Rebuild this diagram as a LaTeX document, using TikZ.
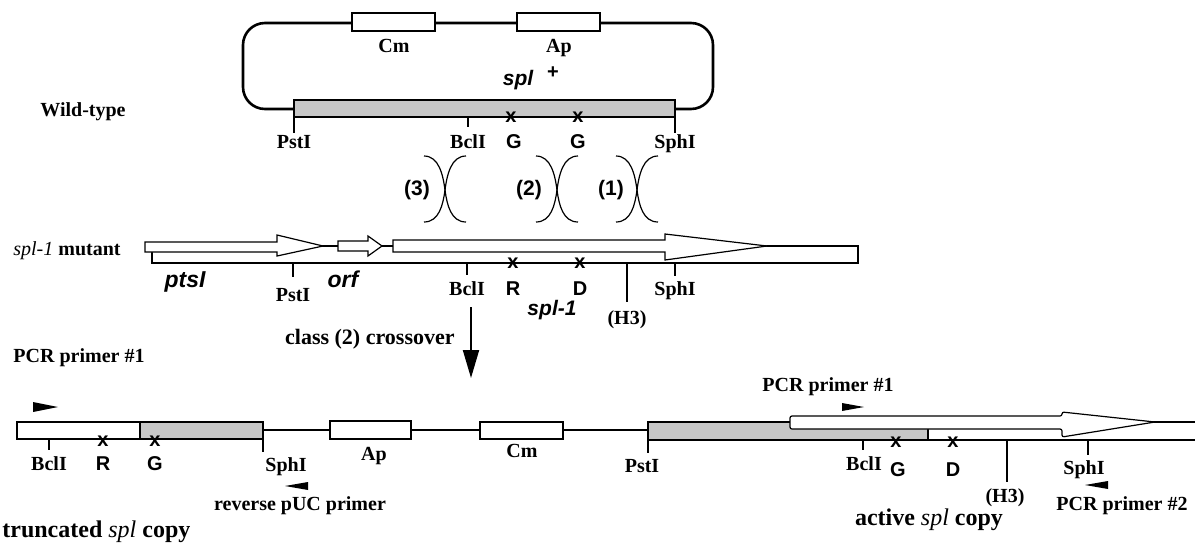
\documentclass[tikz,border=0pt]{standalone}
\usepackage{fontspec}
\setmainfont{Liberation Serif}
\setsansfont{Liberation Sans}
\usetikzlibrary{arrows.meta}
\newcommand{\xoverat}[1]{%
  \draw[xo] (#1-21,156) .. controls (#1-6,156) and (#1-2,175) .. (#1,190) .. controls (#1+2,205) and (#1+6,222) .. (#1+21,222);
  \draw[xo] (#1+21,156) .. controls (#1+6,156) and (#1+2,175) .. (#1,190) .. controls (#1-2,205) and (#1-6,222) .. (#1-21,222);}
\begin{document}
\begin{tikzpicture}[x=0.5pt,y=-0.5pt,
  lab/.style={font=\fontsize{10}{12}\selectfont\bfseries, anchor=base, inner sep=0},
  biglab/.style={font=\fontsize{12}{14}\selectfont\bfseries, anchor=base, inner sep=0},
  slab/.style={font=\fontsize{10}{12}\selectfont\sffamily\bfseries, anchor=base, inner sep=0},
  islab/.style={font=\fontsize{10.5}{12}\selectfont\sffamily\bfseries\itshape, anchor=base, inner sep=0},
  numlab/.style={font=\fontsize{10.5}{12}\selectfont\sffamily\bfseries, inner sep=0},
  xm/.style={font=\fontsize{10}{10}\selectfont\sffamily\bfseries, inner sep=0},
  bb/.style={line width=1.3pt},
  bbl/.style={line width=1pt},
  box/.style={draw, line width=0.8pt, fill=white},
  gbox/.style={draw, line width=0.8pt, fill=black!22},
  gene/.style={draw, line width=0.6pt, fill=white, line join=miter},
  tick/.style={line width=0.6pt},
  primer/.style={fill=black},
  xo/.style={line width=0.6pt},
]
\useasboundingbox (0,0) rectangle (1195,542);

% ---------- wild-type plasmid ----------
\draw[bb, rounded corners=11pt] (294,109) -- (243,109) -- (243,23) -- (713,23) -- (713,109) -- (675,109);
\draw[box] (352,13) rectangle (435,31);
\draw[box] (517,13) rectangle (600,31);
\node[lab] (cmA) at (394,52) {Cm};
\node[lab] (apA) at (559,52) {Ap};
\node[islab] (splA) at (518,85) {spl};
\node[slab, anchor=center] (plusA) at (553,73) {+};
\draw[gbox] (294,100) rectangle (675,117);
\draw[tick] (294,117) -- (294,133);
\draw[tick] (675,117) -- (675,133);
\draw[tick] (468,117) -- (468,127);
\node[xm] (xA1) at (511,117) {x};
\node[xm] (xA2) at (578,117) {x};
\node[lab] (pstA) at (294,148) {PstI};
\node[lab] (bclA) at (468,148) {BclI};
\node[slab] (gA1) at (514,148) {G};
\node[slab] (gA2) at (578,148) {G};
\node[lab] (sphA) at (675,148) {SphI};
\node[lab] (wt) at (83,116) {Wild-type};

% ---------- crossovers ----------
\xoverat{445}
\xoverat{557}
\xoverat{637}
\node[numlab] (c3) at (417,190) {(3)};
\node[numlab] (c2) at (529,190) {(2)};
\node[numlab] (c1) at (611,190) {(1)};

% ---------- spl-1 mutant ----------
\node[lab, anchor=base west] (mut) at (13,255) {\textmd{\textit{spl-1}} mutant};
\draw[gene] (152,246) rectangle (858,263);
\draw[gene] (145,242) -- (277,242) -- (277,235) -- (323,246) -- (277,256) -- (277,252) -- (145,252) -- cycle;
\draw[gene] (338,241) -- (368,241) -- (368,236) -- (382,246) -- (368,256) -- (368,251) -- (338,251) -- cycle;
\draw[gene] (393,240) -- (665,240) -- (665,234) -- (767,246) -- (665,260) -- (665,252) -- (393,252) -- cycle;
\draw[tick] (293,263) -- (293,277);
\draw[tick] (467,263) -- (467,275);
\draw[tick] (627,263) -- (627,302);
\draw[tick] (675,263) -- (675,276);
\node[xm] (xB1) at (513,263) {x};
\node[xm] (xB2) at (580,263) {x};
\node[islab, font=\fontsize{11.5}{13}\selectfont\sffamily\bfseries\itshape] (pts) at (185,287) {ptsI};
\node[islab, font=\fontsize{11.5}{13}\selectfont\sffamily\bfseries\itshape] (orf) at (343,287) {orf};
\node[lab] (pstB) at (293,301) {PstI};
\node[lab] (bclB) at (467,295) {BclI};
\node[slab] (rB) at (513,295) {R};
\node[slab] (dB) at (580,295) {D};
\node[islab] (spl1) at (552,315) {spl-1};
\node[lab] (h3B) at (627,324) {(H3)};
\node[lab] (sphB) at (675,295) {SphI};

% ---------- crossover arrow ----------
\coordinate (arrA) at (471,307);
\coordinate (arrB) at (471,378);
\draw[line width=1pt, -{Triangle[length=14pt,width=8pt]}] (arrA) -- (arrB);
\node[font=\fontsize{11}{13}\selectfont\bfseries, anchor=base east, inner sep=0] (cls) at (455,344) {class (2) crossover};

% ---------- integrant ----------
\draw[box] (17,422) rectangle (140,439);
\draw[gbox] (140,422) rectangle (263,439);
\draw[bbl] (263,430) -- (330,430);
\draw[bbl] (411,430) -- (480,430);
\draw[bbl] (563,430) -- (648,430);
\draw[box] (330,421) rectangle (411,439);
\draw[box] (480,422) rectangle (563,439);
\draw[gbox] (648,422) rectangle (928,440);
\draw[line width=0.8pt] (928,422) -- (1195,422);
\draw[line width=0.8pt] (928,440) -- (1195,440);
\draw[gene, rounded corners=1pt] (790,416) -- (1062,416) -- (1062,412) -- (1155,422) -- (1062,437) -- (1062,429) -- (790,429) -- cycle;

\draw[tick] (49,439) -- (49,450);
\draw[tick] (263,439) -- (263,452);
\draw[tick] (648,440) -- (648,453);
\draw[tick] (863,440) -- (863,450);
\draw[tick] (1007,440) -- (1007,482);
\draw[tick] (1088,440) -- (1088,455);
\node[xm] (xC1) at (103,441) {x};
\node[xm] (xC2) at (155,441) {x};
\node[xm] (xC3) at (896,442) {x};
\node[xm] (xC4) at (953,442) {x};

\node[lab] (bclC) at (49,470) {BclI};
\node[slab] (rC) at (103,470) {R};
\node[slab] (gC) at (155,470) {G};
\node[lab] (sphC) at (286,471) {SphI};
\node[lab] (apC) at (374,460) {Ap};
\node[lab] (cmC) at (522,457) {Cm};
\node[lab] (pstC) at (642,472) {PstI};
\node[lab] (bclD) at (864,470) {BclI};
\node[slab] (gD) at (898,476) {G};
\node[slab] (dD) at (953,476) {D};
\node[lab] (h3D) at (1005,502) {(H3)};
\node[lab] (sphD) at (1084,474) {SphI};

% primers
\fill[primer] (33,402) -- (58,407) -- (33,412) -- cycle;
\fill[primer] (842,403) -- (864,407) -- (842,411) -- cycle;
\fill[primer] (308,482) -- (285,486) -- (308,490) -- cycle;
\fill[primer] (1108,481) -- (1085,485) -- (1108,489) -- cycle;
\node[lab] (p1L) at (79,362) {PCR primer \#1};
\node[lab] (p1R) at (828,391) {PCR primer \#1};
\node[lab] (puc) at (300,510) {reverse pUC primer};
\node[lab] (p2) at (1122,510) {PCR primer \#2};
\node[biglab, anchor=base west] (trunc) at (2,537) {truncated \textmd{\textit{spl}} copy};
\node[biglab] (act) at (929,525) {active \textmd{\textit{spl}} copy};
\end{tikzpicture}
\end{document}
